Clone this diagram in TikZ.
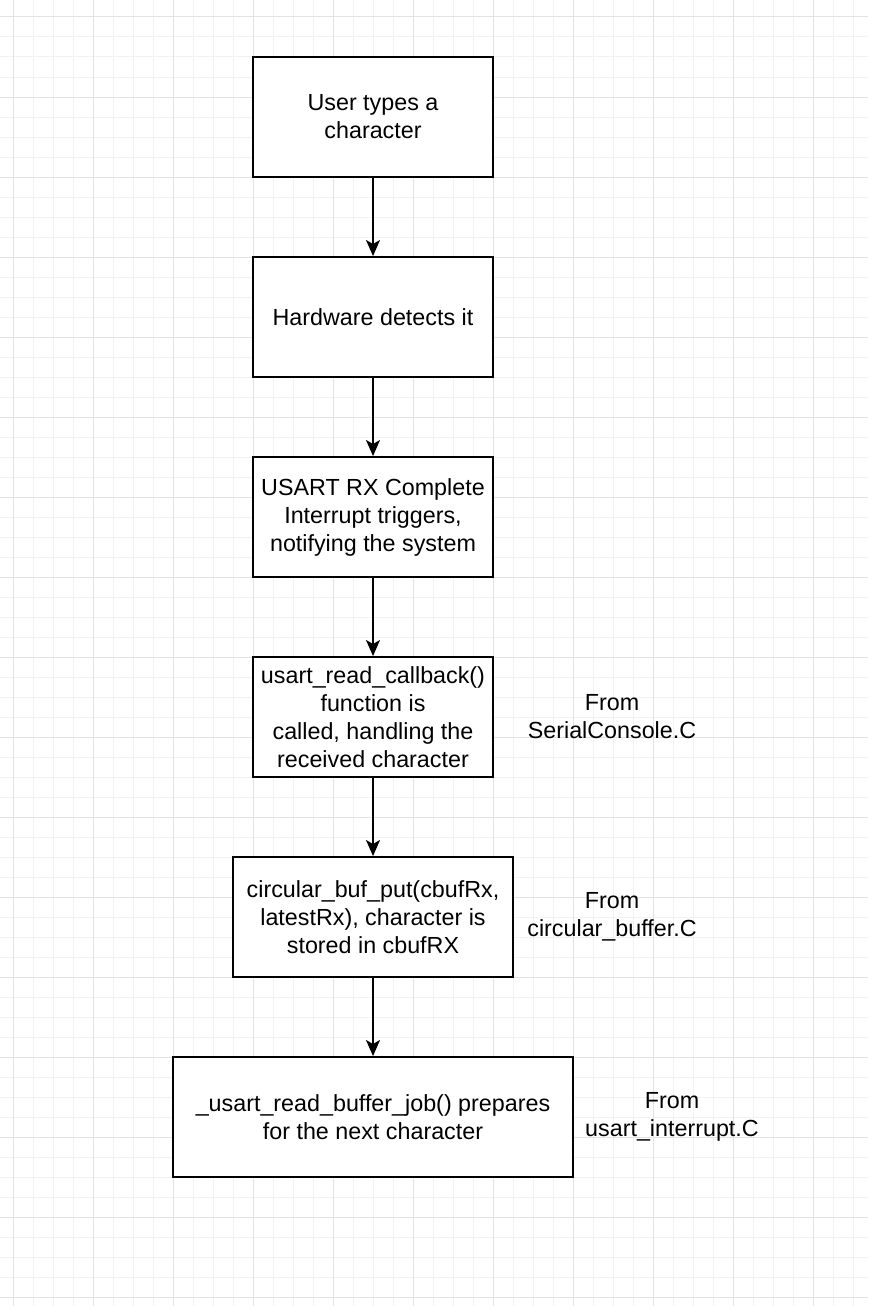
\documentclass[tikz,border=0pt]{standalone}
\usepackage{fontspec}
\setmainfont{Liberation Sans}
\usetikzlibrary{arrows.meta}
\tikzset{
  minorgrid/.style={draw=black!5, line width=1pt},
  majorgrid/.style={draw=black!11, line width=1pt},
  stepbox/.style={draw=black, line width=2pt, fill=white, rectangle, minimum height=120pt, inner sep=0pt, align=center, font=\fontsize{23.3}{28}\selectfont},
  notelabel/.style={align=center, inner sep=0pt, font=\fontsize{23.3}{28}\selectfont},
  flow/.style={draw=black, line width=2pt, -{Stealth[length=16pt,width=14pt,inset=4pt]}}
}
\begin{document}
\begin{tikzpicture}[x=1pt,y=-1pt]
\useasboundingbox (0,0) rectangle (868,1306);
\fill[white] (0,0) rectangle (868,1306);
% grid
\foreach \x in {13,33,...,853} \draw[minorgrid] (\x,0) -- (\x,1306);
\foreach \y in {17,37,...,1297} \draw[minorgrid] (0,\y) -- (868,\y);
\foreach \x in {13,93,...,813} \draw[majorgrid] (\x,0) -- (\x,1306);
\foreach \y in {17,97,...,1297} \draw[majorgrid] (0,\y) -- (868,\y);
% boxes
\node[stepbox, minimum width=240pt] (b1) at (373,117) {User types a\\character};
\node[stepbox, minimum width=240pt] (b2) at (373,317) {Hardware detects it};
\node[stepbox, minimum width=240pt] (b3) at (373,517) {USART RX Complete\\Interrupt triggers,\\notifying the system};
\node[stepbox, minimum width=240pt] (b4) at (373,717) {usart\_read\_callback()\\function is\\called, handling the\\received character};
\node[stepbox, minimum width=280pt] (b5) at (373,917) {circular\_buf\_put(cbufRx,\\latestRx), character is\\stored in cbufRX};
\node[stepbox, minimum width=400pt] (b6) at (373,1117) {\_usart\_read\_buffer\_job() prepares\\for the next character};
% notes
\node[notelabel] (n4) at (612,717) {From\\SerialConsole.C};
\node[notelabel] (n5) at (612,917) {From\\circular\_buffer.C};
\node[notelabel] (n6) at (672,1117) {From\\usart\_interrupt.C};
% arrows
\draw[flow] (b1) -- (b2);
\draw[flow] (b2) -- (b3);
\draw[flow] (b3) -- (b4);
\draw[flow] (b4) -- (b5);
\draw[flow] (b5) -- (b6);
\end{tikzpicture}
\end{document}
